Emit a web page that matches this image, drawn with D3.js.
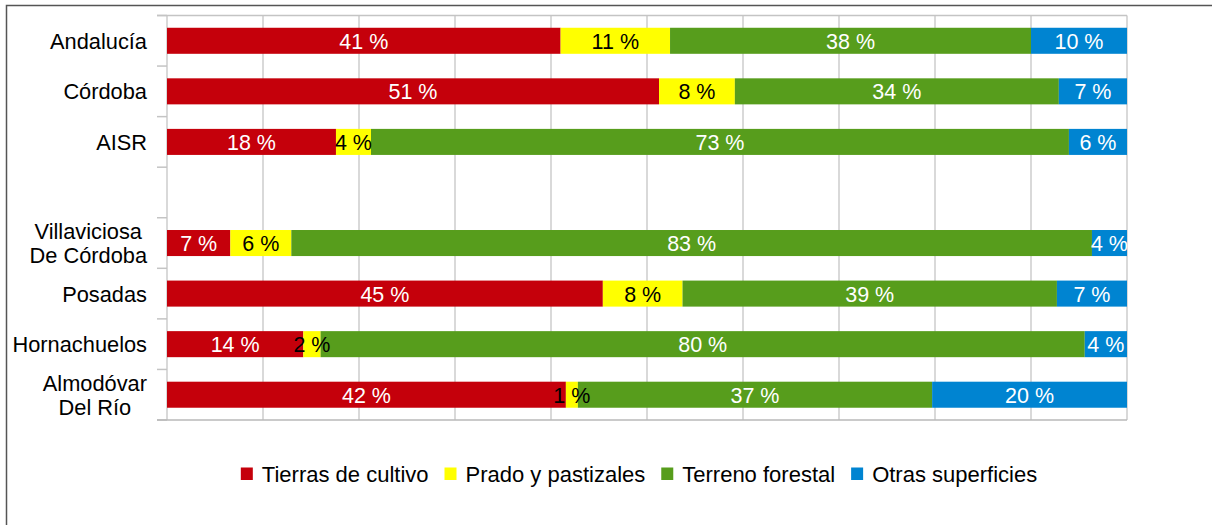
<!DOCTYPE html>
<html>
<head>
<meta charset="utf-8">
<script src="https://cdn.jsdelivr.net/npm/d3@7"></script>
<style>
  body { margin: 0; background: #fff; }
  svg { display: block; font-family: "Liberation Sans", Arial, sans-serif; }
</style>
</head>
<body>
<div id="chart"></div>
<script>
// Categories (empty string = gap row between the groups)
let categories = ["Andalucía", "Córdoba", "AISR", "", "Villaviciosa\nDe Córdoba", "Posadas", "Hornachuelos", "Almodóvar\nDel Río"];

// Share of surface (%) per series, one value per category
let cultivo   = [41.0, 51.25, 17.6, null, 6.6, 45.4, 14.2, 41.55];
let prado     = [11.4, 7.9, 3.65, null, 6.35, 8.3, 1.8, 1.25];
let forestal  = [37.6, 33.75, 72.7, null, 83.4, 39.0, 79.6, 36.9];
let otras     = [10.0, 7.1, 6.05, null, 3.65, 7.3, 4.4, 20.3];

let seriesNames = ["Tierras de cultivo", "Prado y pastizales", "Terreno forestal", "Otras superficies"];
let seriesColors = ["#c5000b", "#ffff00", "#579d1c", "#0084d1"];
let labelColors = ["#ffffff", "#000000", "#ffffff", "#ffffff"];
let xTicks = [0, 10, 20, 30, 40, 50, 60, 70, 80, 90, 100];

let width = 1212;
let height = 525;
let plot = {left: 167, right: 1127, top: 15.5, bottom: 420};

let svg = d3.select('#chart')
    .append('svg')
    .attr('width', width)
    .attr('height', height);

// outer frame
svg.append('rect')
    .attr('x', 6.5)
    .attr('y', 5.5)
    .attr('width', 1300)
    .attr('height', 600)
    .attr('fill', 'none')
    .attr('stroke', '#555')
    .attr('stroke-width', 1.5);

// build rows for the stack
let keys = ["cultivo", "prado", "forestal", "otras"];
let rows = categories.map((c, i) => ({
    cat: c,
    cultivo: cultivo[i], prado: prado[i], forestal: forestal[i], otras: otras[i]
}));

let stacked = d3.stack().keys(keys).value((d, k) => d[k] == null ? 0 : d[k])(rows);

let x = d3.scaleLinear()
    .domain([0, 100])
    .range([plot.left, plot.right]);

let y = d3.scaleBand()
    .domain(categories)
    .range([plot.top, plot.bottom])
    .paddingInner(0.485)
    .paddingOuter(0.2425);

// vertical gridlines
svg.append('g')
    .selectAll('line')
    .data(xTicks)
    .enter()
    .append('line')
    .attr('x1', d => x(d))
    .attr('x2', d => x(d))
    .attr('y1', plot.top)
    .attr('y2', plot.bottom)
    .attr('stroke', '#cccccc')
    .attr('stroke-width', 1.5);

// top border of plot
svg.append('line')
    .attr('x1', plot.left - 10).attr('x2', plot.right)
    .attr('y1', plot.top).attr('y2', plot.top)
    .attr('stroke', '#c4c4c4').attr('stroke-width', 1.5);

// y axis ticks at band boundaries
let step = y.step();
let boundaries = d3.range(categories.length + 1).map(i => plot.top + i * step);
svg.append('g')
    .selectAll('line')
    .data(boundaries)
    .enter()
    .append('line')
    .attr('x1', plot.left - 10)
    .attr('x2', plot.left)
    .attr('y1', d => d)
    .attr('y2', d => d)
    .attr('stroke', '#c4c4c4')
    .attr('stroke-width', 1.5);

// bars
let groups = svg.append('g')
    .selectAll('g')
    .data(stacked)
    .enter()
    .append('g')
    .attr('fill', (d, i) => seriesColors[i]);

groups.selectAll('rect')
    .data(d => d.filter(p => p.data[d.key] != null))
    .enter()
    .append('rect')
    .attr('x', d => x(d[0]))
    .attr('width', d => x(d[1]) - x(d[0]))
    .attr('y', d => y(d.data.cat))
    .attr('height', y.bandwidth());

// bottom axis line
svg.append('line')
    .attr('x1', plot.left - 10).attr('x2', plot.right)
    .attr('y1', plot.bottom).attr('y2', plot.bottom)
    .attr('stroke', '#b8b8b8').attr('stroke-width', 1.5);

// value labels
stacked.forEach((s, i) => {
    svg.append('g')
        .selectAll('text')
        .data(s.filter(p => p.data[s.key] != null))
        .enter()
        .append('text')
        .attr('x', d => (x(d[0]) + x(d[1])) / 2)
        .attr('y', d => y(d.data.cat) + y.bandwidth() / 2 + 8)
        .attr('text-anchor', 'middle')
        .attr('font-size', '21.5px')
        .attr('fill', labelColors[i])
        .text(d => Math.round(d.data[s.key]) + ' %');
});

// category labels (multi-line ones are centred within their block, block right-aligned)
let labelRight = 147;
let catLabels = svg.append('g')
    .selectAll('text')
    .data(categories.filter(c => c !== ""))
    .enter()
    .append('text')
    .attr('font-size', '21.8px')
    .attr('fill', '#000');

catLabels.each(function(c) {
    let lines = c.split('\n');
    let cy = y(c) + y.bandwidth() / 2;
    let lineH = 23.7;
    let start = cy + 8 - (lines.length - 1) * lineH / 2;
    let t = d3.select(this);
    let spans = lines.map((ln, j) => t.append('tspan')
        .attr('y', start + j * lineH)
        .text(ln));
    if (lines.length === 1) {
        t.attr('text-anchor', 'end');
        spans[0].attr('x', labelRight);
    } else {
        let maxW = d3.max(spans, s => s.node().getComputedTextLength());
        t.attr('text-anchor', 'middle');
        spans.forEach(s => s.attr('x', labelRight - maxW / 2));
    }
});

// legend
let legend = svg.append('g');
let items = legend.selectAll('g')
    .data(seriesNames)
    .enter()
    .append('g');

items.append('rect')
    .attr('width', 12)
    .attr('height', 12.5)
    .attr('y', 467.5)
    .attr('fill', (d, i) => seriesColors[i]);

items.append('text')
    .attr('x', 21)
    .attr('y', 482)
    .attr('font-size', '22px')
    .attr('fill', '#000')
    .text(d => d);

let cursor = 0;
items.each(function() {
    let w = 21 + d3.select(this).select('text').node().getComputedTextLength();
    d3.select(this).attr('data-x', cursor);
    cursor += w + 16;
});
let total = cursor - 16;
let legendStart = 639 - total / 2;
items.attr('transform', function() {
    return `translate(${legendStart + +d3.select(this).attr('data-x')}, 0)`;
});
</script>
</body>
</html>
